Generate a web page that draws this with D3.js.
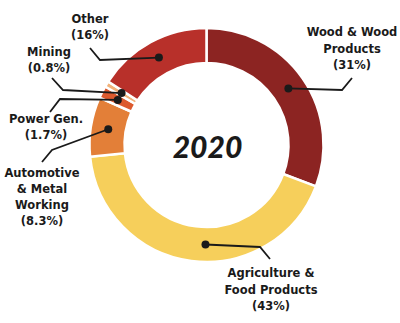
<!DOCTYPE html>
<html>
<head>
<meta charset="utf-8">
<script src="https://cdn.jsdelivr.net/npm/d3@7/dist/d3.min.js"></script>
<style>
  html, body { margin: 0; padding: 0; background: #fff; }
  svg { display: block; }
  .lbl { font-family: "DejaVu Sans", sans-serif; font-weight: bold; font-size: 11.5px; fill: #1a1a1a; }
  .yr { font-family: "Lato", "DejaVu Sans", sans-serif; font-weight: 900; font-style: italic; font-size: 30px; fill: #1a1a1a; }
</style>
</head>
<body>
<svg id="chart" width="400" height="323"></svg>
<script>
// Sector shares, in percent, clockwise from 12 o'clock
const sectors = ["Wood & Wood Products", "Agriculture & Food Products", "Automotive & Metal Working", "Power Gen.", "Mining", "Other"];
const shares = [31, 43, 8.3, 1.7, 0.8, 16];
const year = "2020";

// Label text lines for each sector
const labelLines = [
  ["Wood & Wood", "Products", "(31%)"],
  ["Agriculture &", "Food Products", "(43%)"],
  ["Automotive", "& Metal", "Working", "(8.3%)"],
  ["Power Gen.", "(1.7%)"],
  ["Mining", "(0.8%)"],
  ["Other", "(16%)"]
];

const colors = ["#8c2422", "#f6cf5b", "#e37f38", "#dc5a2e", "#f2b27a", "#b8302a"];

// Leader-line layout: where along the slice the dot sits, the elbow/end points,
// and where the label block is centred
const layout = [
  { f: 0.5,  path: [[342, 90], [352, 78]], lx: 352, ly: 32, lh: 16.5 },
  { f: 0.455, path: [[260, 247], [270, 259]], lx: 271, ly: 273, lh: 16.5 },
  { f: 0.5,  path: [[52, 150], [42, 162]], lx: 42, ly: 173, lh: 16 },
  { f: 0.5,  path: [[60, 99], [50, 112]], lx: 46, ly: 119, lh: 16 },
  { f: 0.5,  path: [[63, 90], [52, 78]], lx: 49, ly: 52, lh: 16 },
  { f: 0.5,  path: [[100, 60], [90, 48]], lx: 90, ly: 19, lh: 16 }
];

const svg = d3.select("#chart");
const cx = 206.5, cy = 145, rOuter = 117, rInner = 82;
const g = svg.append("g").attr("transform", `translate(${cx},${cy})`);

const data = sectors.map((s, i) => ({ name: s, value: shares[i], i }));
const pie = d3.pie().value(d => d.value).sort(null);
const arcs = pie(data);
const arc = d3.arc().innerRadius(rInner).outerRadius(rOuter);

g.selectAll("path.slice")
  .data(arcs)
  .join("path")
  .attr("class", "slice")
  .attr("d", arc)
  .attr("fill", d => colors[d.data.i])
  .attr("stroke", "#fff")
  .attr("stroke-width", 2.5);

// Leader lines with dots
const rMid = (rInner + rOuter) / 2;
arcs.forEach(a => {
  const L = layout[a.data.i];
  const ang = a.startAngle + (a.endAngle - a.startAngle) * L.f;
  const dx = cx + rMid * Math.sin(ang);
  const dy = cy - rMid * Math.cos(ang);
  const pts = [[dx, dy]].concat(L.path);
  svg.append("path")
    .attr("d", d3.line()(pts))
    .attr("fill", "none")
    .attr("stroke", "#1a1a1a")
    .attr("stroke-width", 1.8);
  svg.append("circle")
    .attr("cx", dx).attr("cy", dy).attr("r", 4)
    .attr("fill", "#1a1a1a");

  const t = svg.append("text")
    .attr("class", "lbl")
    .attr("text-anchor", "middle");
  labelLines[a.data.i].forEach((line, k) => {
    t.append("tspan")
      .attr("x", L.lx)
      .attr("y", L.ly + k * L.lh)
      .attr("dy", "0.35em")
      .text(line);
  });
});

svg.append("text")
  .attr("class", "yr")
  .attr("x", cx + 1)
  .attr("y", cy + 2)
  .attr("dy", "0.35em")
  .attr("text-anchor", "middle")
  .text(year);
</script>
</body>
</html>
